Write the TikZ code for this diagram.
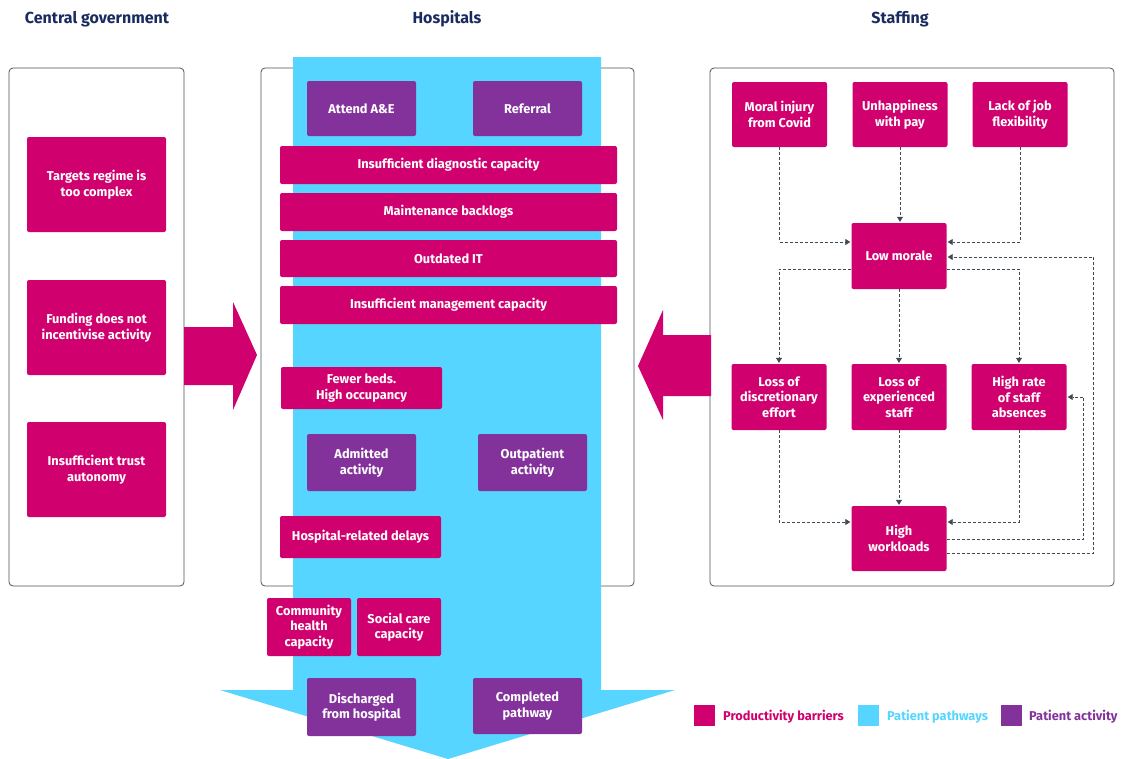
\documentclass[tikz,border=0pt]{standalone}
\usepackage{fontspec}
\setmainfont{Fira Sans}
\usetikzlibrary{arrows.meta}
\definecolor{mag}{HTML}{D0006F}
\definecolor{cyanp}{HTML}{55D5FF}
\definecolor{purp}{HTML}{84329B}
\definecolor{navy}{HTML}{1A2B5F}
\definecolor{edge}{HTML}{4B5259}
\definecolor{conn}{HTML}{3F4A55}
\tikzset{
  bx/.style={rounded corners=2pt, inner sep=1pt, align=center, text=white,
    font=\fontsize{12.8}{15.5}\selectfont\bfseries},
  mbox/.style={bx, fill=mag},
  pbox/.style={bx, fill=purp},
  panel/.style={draw=edge, line width=0.8pt, rounded corners=4pt},
  title/.style={font=\fontsize{16}{18}\selectfont\bfseries, text=navy},
  bigarrow/.style={fill=mag},
  conn/.style={draw=conn, line width=0.75pt, dash pattern=on 3pt off 2pt,
    -{Triangle[length=5pt,width=6pt]}, shorten >=1pt},
  legsq/.style={minimum width=21pt, minimum height=21pt, inner sep=0pt},
  legtx/.style={anchor=west, font=\fontsize{12.8}{14}\selectfont\bfseries, inner sep=0pt}
}
\begin{document}
\begin{tikzpicture}[x=1pt,y=-1pt]
\useasboundingbox (0,0) rectangle (1124,758);
% titles
\node[title] (t1) at (97,19) {Central government};
\node[title] (t2) at (447,19) {Hospitals};
\node[title] (t3) at (900,19) {Staffing};
% panels
\draw[panel, fill=white] (9,68) rectangle (184,586);
\draw[panel] (261,68) rectangle (634,586);
\draw[panel, fill=white] (710,68) rectangle (1114,586);
% patient pathway band
\fill[cyanp] (293,57) -- (601,57) -- (601,690) -- (675,690) -- (448,759) -- (220,690) -- (293,690) -- cycle;
% big arrows
\fill[bigarrow] (184,327) -- (233,327) -- (233,302) -- (257,355) -- (233,410) -- (233,385) -- (184,385) -- cycle;
\fill[bigarrow] (711,335) -- (663,335) -- (663,310) -- (638,366) -- (663,420) -- (663,396) -- (711,396) -- cycle;
% left boxes
\node[mbox, minimum width=139pt, minimum height=95pt] (l1) at (96.5,184.5) {Targets regime is\\too complex};
\node[mbox, minimum width=139pt, minimum height=95pt] (l2) at (96.5,327.5) {Funding does not\\incentivise activity};
\node[mbox, minimum width=139pt, minimum height=95pt] (l3) at (96.5,469.5) {Insufficient trust\\autonomy};
% hospital boxes
\node[pbox, minimum width=109pt, minimum height=55pt] (attend) at (361.5,108.5) {Attend A\&E};
\node[pbox, minimum width=109pt, minimum height=55pt] (referral) at (527.5,108.5) {Referral};
\node[mbox, minimum width=337pt, minimum height=38pt] (diag) at (448.5,165) {Insufficient diagnostic capacity};
\node[mbox, minimum width=337pt, minimum height=38pt] (maint) at (448.5,212) {Maintenance backlogs};
\node[mbox, minimum width=337pt, minimum height=37pt] (it) at (448.5,258.5) {Outdated IT};
\node[mbox, minimum width=337pt, minimum height=38pt] (mgmt) at (448.5,305) {Insufficient management capacity};
\node[mbox, minimum width=161pt, minimum height=42pt] (beds) at (361.5,388) {Fewer beds.\\High occupancy};
\node[pbox, minimum width=109pt, minimum height=57pt] (admitted) at (361.5,462.5) {Admitted\\activity};
\node[pbox, minimum width=109pt, minimum height=57pt] (outpat) at (532.5,462.5) {Outpatient\\activity};
\node[mbox, minimum width=161pt, minimum height=42pt] (delays) at (360.5,537) {Hospital-related delays};
\node[mbox, minimum width=84pt, minimum height=58pt] (comm) at (309,627) {Community\\health\\capacity};
\node[mbox, minimum width=84pt, minimum height=58pt] (social) at (399,627) {Social care\\capacity};
\node[pbox, minimum width=109pt, minimum height=58pt] (disch) at (361.5,707) {Discharged\\from hospital};
\node[pbox, minimum width=109pt, minimum height=56pt] (compl) at (527.5,706) {Completed\\pathway};
% staffing boxes
\node[mbox, minimum width=95pt, minimum height=65pt] (moral) at (779.5,114.5) {Moral injury\\from Covid};
\node[mbox, minimum width=95pt, minimum height=65pt] (unhappy) at (900,114.5) {Unhappiness\\with pay};
\node[mbox, minimum width=95pt, minimum height=65pt] (lack) at (1020,114.5) {Lack of job\\flexibility};
\node[mbox, minimum width=95pt, minimum height=66pt] (low) at (899,256) {Low morale};
\node[mbox, minimum width=95pt, minimum height=66pt] (lossd) at (779,397) {Loss of\\discretionary\\effort};
\node[mbox, minimum width=95pt, minimum height=66pt] (losse) at (899,397) {Loss of\\experienced\\staff};
\node[mbox, minimum width=95pt, minimum height=66pt] (highrate) at (1019,397) {High rate\\of staff\\absences};
\node[mbox, minimum width=95pt, minimum height=65pt] (highw) at (899,538.5) {High\\workloads};
% connectors
\draw[conn] (moral.south) |- ([yshift=14pt]low.west);
\draw[conn] (unhappy.south) -- (unhappy.south |- low.north);
\draw[conn] (lack.south) |- ([yshift=14pt]low.east);
\draw[conn] ([yshift=-13pt]low.west) -| (lossd.north);
\draw[conn] (low.south) -- (low.south |- losse.north);
\draw[conn] ([yshift=-13pt]low.east) -| (highrate.north);
\draw[conn] (lossd.south) |- ([yshift=16.5pt]highw.west);
\draw[conn] (losse.south) -- (losse.south |- highw.north);
\draw[conn] (highrate.south) |- ([yshift=16.5pt]highw.east);
\draw[conn] ([yshift=-0.5pt]highw.east) -- ++(137,0) |- (highrate.east);
\draw[conn] ([yshift=-14.5pt]highw.east) -- ++(147,0) |- ([yshift=-1pt]low.east);
% legend
\node[legsq, fill=mag] (k1) at (704.5,715.5) {};
\node[legtx, text=mag] (k1t) at (723,716.5) {Productivity barriers};
\node[legsq, fill=cyanp] (k2) at (868.5,715.5) {};
\node[legtx, text=cyanp] (k2t) at (887,716.5) {Patient pathways};
\node[legsq, fill=purp] (k3) at (1011.5,715.5) {};
\node[legtx, text=purp] (k3t) at (1029,716.5) {Patient activity};
\end{tikzpicture}
\end{document}
